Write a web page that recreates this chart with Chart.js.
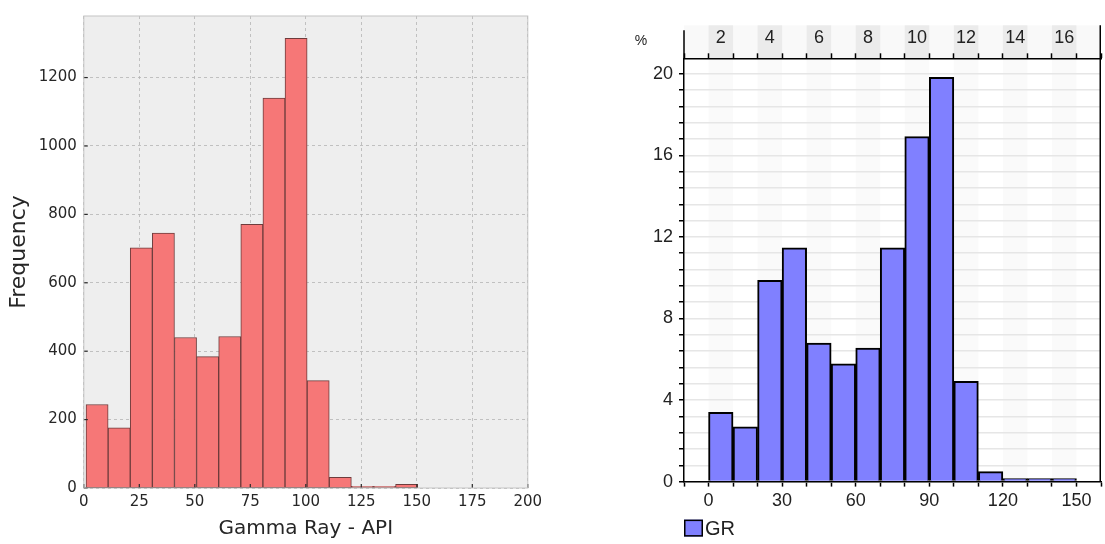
<!DOCTYPE html>
<html>
<head>
<meta charset="utf-8">
<script src="https://cdn.jsdelivr.net/npm/chart.js@4/dist/chart.umd.min.js"></script>
<style>
  body { margin: 0; background: #fff; width: 1105px; height: 544px; overflow: hidden; position: relative; }
  #left { position: absolute; left: 0; top: 0; width: 560px; height: 544px; }
  #right { position: absolute; left: 600px; top: 0; width: 505px; height: 544px; }
</style>
</head>
<body>
<div id="left"><canvas id="freqChart"></canvas></div>
<div id="right"><canvas id="pctChart"></canvas></div>
<script>
// left: frequency histogram of gamma ray
const freqBinCenters = [5.98, 15.94, 25.9, 35.86, 45.82, 55.78, 65.74, 75.7, 85.66, 95.62, 105.58, 115.54, 125.5, 135.46, 145.42];
const freqCounts = [244, 176, 702, 745, 440, 384, 443, 771, 1140, 1315, 314, 31, 5, 5, 11];
const freqXTicks = [0, 25, 50, 75, 100, 125, 150, 175, 200];
const freqYTicks = [0, 200, 400, 600, 800, 1000, 1200];

// right: GR histogram in percent
const grBinCenters = [5, 15, 25, 35, 45, 55, 65, 75, 85, 95, 105, 115, 125, 135, 145];
const grPercent = [3.40, 2.69, 9.87, 11.47, 6.79, 5.77, 6.55, 11.47, 16.92, 19.83, 4.92, 0.49, 0.15, 0.15, 0.15];
const grBottomLabels = [0, 30, 60, 90, 120, 150];
const grLeftLabels = [0, 4, 8, 12, 16, 20];
const grTopLabels = ["2", "4", "6", "8", "10", "12", "14", "16"];

const dejavu = "DejaVu Sans";
const narrow = '"Liberation Sans Narrow", "Liberation Sans", Arial, sans-serif';

// grey axes background, light frame and inward ticks like matplotlib bmh
const mplFrame = {
  id: "mplFrame",
  beforeDraw(chart) {
    const { ctx, chartArea: a } = chart;
    ctx.save();
    ctx.fillStyle = "#eeeeee";
    ctx.fillRect(a.left, a.top, a.right - a.left, a.bottom - a.top);
    ctx.restore();
  },
  afterDatasetsDraw(chart) {
    const { ctx, chartArea: a, scales } = chart;
    ctx.save();
    ctx.strokeStyle = "#2a2a2a";
    ctx.lineWidth = 1.2;
    scales.x.ticks.forEach((t) => {
      const px = scales.x.getPixelForValue(t.value);
      ctx.beginPath();
      ctx.moveTo(px, a.bottom);
      ctx.lineTo(px, a.bottom - 4);
      ctx.stroke();
    });
    scales.y.ticks.forEach((t) => {
      const py = scales.y.getPixelForValue(t.value);
      ctx.beginPath();
      ctx.moveTo(a.left, py);
      ctx.lineTo(a.left + 4, py);
      ctx.stroke();
    });
    ctx.strokeStyle = "#c4c4c4";
    ctx.lineWidth = 1;
    ctx.strokeRect(a.left, a.top, a.right - a.left, a.bottom - a.top);
    ctx.restore();
  },
};

new Chart(document.getElementById("freqChart"), {
  type: "bar",
  data: {
    datasets: [
      {
        data: freqBinCenters.map((c, i) => ({ x: c, y: freqCounts[i] })),
        backgroundColor: "#f67777",
        borderColor: "#6e3c3c",
        borderWidth: 1,
        borderSkipped: false,
        barPercentage: 1,
        categoryPercentage: 1,
      },
    ],
  },
  options: {
    responsive: true,
    maintainAspectRatio: false,
    animation: false,
    layout: { padding: { top: 7.6, right: 32.2, left: 0, bottom: 0 } },
    plugins: { legend: { display: false }, tooltip: { enabled: false } },
    scales: {
      x: {
        type: "linear",
        min: 0,
        max: 200,
        offset: false,
        afterBuildTicks: (s) => { s.ticks = freqXTicks.map((v) => ({ value: v })); },
        grid: { offset: false, color: "#b4b4b4", lineWidth: 0.8, drawTicks: false },
        border: { display: false, dash: [3, 3] },
        ticks: {
          autoSkip: false,
          padding: 5,
          maxRotation: 0,
          color: "#262626",
          font: { family: dejavu, size: 15 },
          callback: (v) => String(v),
        },
        title: {
          display: true,
          text: "Gamma Ray - API",
          color: "#262626",
          font: { family: dejavu, size: 20 },
          padding: { top: 0, bottom: 3 },
        },
        afterFit: (s) => { s.height = 56; },
      },
      y: {
        min: 0,
        max: 1380,
        afterBuildTicks: (s) => { s.ticks = freqYTicks.map((v) => ({ value: v })); },
        grid: { color: "#b4b4b4", lineWidth: 0.8, drawTicks: false },
        border: { display: false, dash: [3, 3] },
        ticks: {
          autoSkip: false,
          padding: 7,
          color: "#262626",
          font: { family: dejavu, size: 15 },
          callback: (v) => String(v),
        },
        title: {
          display: true,
          text: "Frequency",
          color: "#262626",
          font: { family: dejavu, size: 22 },
          padding: { top: 6, bottom: 0 },
        },
        afterFit: (s) => { s.width = 83.8; },
      },
    },
  },
  plugins: [mplFrame],
});

// header band with bin stripes, frame, % unit and legend for the right chart
const binHalf = (grBinCenters[1] - grBinCenters[0]) / 2;
const grHeader = {
  id: "grHeader",
  beforeDraw(chart) {
    const { ctx, chartArea: a, scales } = chart;
    const x = scales.x, top = scales.x2;
    ctx.save();
    ctx.fillStyle = "#f9f9f9";
    ctx.fillRect(a.left, top.top, a.right - a.left, top.bottom - top.top);
    grTopLabels.forEach((_, k) => {
      const c = grBinCenters[2 * k];
      const x0 = x.getPixelForValue(c - binHalf);
      const x1 = x.getPixelForValue(c + binHalf);
      ctx.fillStyle = "#ebebeb";
      ctx.fillRect(x0, top.top, x1 - x0, top.bottom - top.top);
      ctx.fillStyle = "#fafafa";
      ctx.fillRect(x0, a.top, x1 - x0, a.bottom - a.top);
    });
    ctx.restore();
  },
  afterDraw(chart) {
    const { ctx, chartArea: a, scales } = chart;
    const top = scales.x2;
    const ds = chart.data.datasets[0];
    ctx.save();
    ctx.strokeStyle = "#000";
    ctx.lineWidth = 1.5;
    ctx.beginPath();
    ctx.moveTo(a.left, top.top + 5);
    ctx.lineTo(a.left, a.top);
    ctx.moveTo(a.right - 0.75, top.top);
    ctx.lineTo(a.right - 0.75, a.bottom);
    ctx.stroke();

    ctx.fillStyle = "#222";
    ctx.font = "14px " + narrow;
    ctx.textAlign = "center";
    ctx.textBaseline = "middle";
    ctx.fillText("%", a.left - 43, top.top + 16);

    const bx = a.left, by = a.bottom + 38;
    ctx.fillStyle = ds.backgroundColor;
    ctx.fillRect(bx, by, 19, 17);
    ctx.strokeRect(bx + 0.75, by + 0.75, 17.5, 15.5);
    ctx.fillStyle = "#222";
    ctx.font = "20px " + narrow;
    ctx.textAlign = "left";
    ctx.fillText(ds.label, bx + 21, by + 10);
    ctx.restore();
  },
};

const sameValue = (a, b) => Math.abs(a - b) < 1e-6;

new Chart(document.getElementById("pctChart"), {
  type: "bar",
  data: {
    datasets: [
      {
        label: "GR",
        data: grBinCenters.map((c, i) => ({ x: c, y: grPercent[i] })),
        backgroundColor: "#8080ff",
        borderColor: "#000",
        borderWidth: 2,
        barPercentage: 1,
        categoryPercentage: 1,
      },
    ],
  },
  options: {
    responsive: true,
    maintainAspectRatio: false,
    animation: false,
    layout: { padding: { top: 25.3, right: 1, left: 0, bottom: 0 } },
    plugins: { legend: { display: false }, tooltip: { enabled: false } },
    scales: {
      x: {
        type: "linear",
        min: -10,
        max: 160,
        offset: false,
        afterBuildTicks: (s) => {
          const t = [];
          for (let v = -10; v <= 160; v += 10) t.push({ value: v });
          s.ticks = t;
        },
        grid: { offset: false, drawOnChartArea: false, tickLength: 5, tickColor: "#000", tickWidth: 1.5 },
        border: { color: "#000", width: 1.5 },
        ticks: {
          autoSkip: false,
          maxRotation: 0,
          padding: 4,
          color: "#222",
          font: { family: narrow, size: 18 },
          callback: (v) => (grBottomLabels.some((l) => sameValue(l, v)) ? String(v) : ""),
        },
        afterFit: (s) => { s.height = 62.4; },
      },
      x2: {
        type: "linear",
        position: "top",
        min: -10,
        max: 160,
        offset: false,
        afterBuildTicks: (s) => {
          const t = [];
          for (let v = -10; v <= 160; v += 5) t.push({ value: v });
          s.ticks = t;
        },
        grid: {
          offset: false,
          drawOnChartArea: false,
          tickLength: 5,
          tickWidth: 1.5,
          tickColor: (c) => (c.tick && c.tick.value % 10 === 0 ? "#000" : "rgba(0,0,0,0)"),
        },
        border: { color: "#000", width: 1.5 },
        ticks: {
          autoSkip: false,
          maxRotation: 0,
          padding: 4,
          color: "#222",
          font: { family: narrow, size: 18 },
          callback: (v) => {
            const k = grTopLabels.findIndex((_, i) => sameValue(grBinCenters[2 * i], v));
            return k >= 0 ? grTopLabels[k] : "";
          },
        },
        afterFit: (s) => { s.height = 33; },
      },
      y: {
        min: 0,
        max: 20.76,
        afterBuildTicks: (s) => {
          const t = [];
          for (let i = 0; i <= 25; i++) t.push({ value: Math.round(i * 0.8 * 100) / 100 });
          s.ticks = t;
        },
        grid: { color: "#e6e6e6", lineWidth: 1.5, tickLength: 5, tickColor: "#000", tickWidth: 1.5 },
        border: { color: "#000", width: 1.5 },
        ticks: {
          autoSkip: false,
          padding: 6,
          color: "#222",
          font: { family: narrow, size: 18 },
          callback: (v) => (grLeftLabels.some((l) => sameValue(l, v)) ? String(v) : ""),
        },
        afterFit: (s) => { s.width = 84; },
      },
    },
  },
  plugins: [grHeader],
});
</script>
</body>
</html>
